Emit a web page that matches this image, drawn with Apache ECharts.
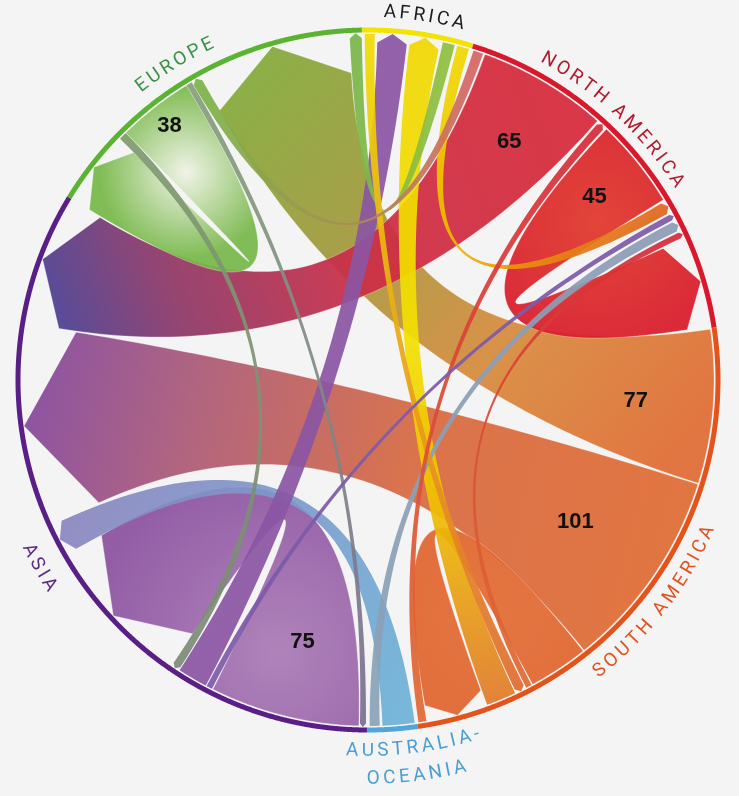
<!DOCTYPE html>
<html>
<head>
<meta charset="utf-8">
<script src="https://cdn.jsdelivr.net/npm/echarts@6/dist/echarts.min.js"></script>
<style>
html,body{margin:0;padding:0;background:#f4f4f4;}
#c{width:739px;height:796px;}
</style>
</head>
<body>
<div id="c"></div>
<script>
// ---------------- DATA ----------------
const regionNames  = ['Africa', 'North America', 'South America', 'Australia-Oceania', 'Asia', 'Europe'];
const regionLabels = ['AFRICA', 'NORTH AMERICA', 'SOUTH AMERICA', 'AUSTRALIA-\nOCEANIA', 'ASIA', 'EUROPE'];
const regionTotals = [55, 191, 270, 25, 362, 172];

const linkSource = ['North America','South America','South America','Asia','Europe','North America',
  'South America','Asia','Australia-Oceania','South America','Europe','Europe','Africa','Africa',
  'South America','Asia','Australia-Oceania','South America','Africa','North America'];
const linkTarget = ['Asia','Asia','Europe','Asia','Europe','North America',
  'Africa','Africa','Asia','South America','Asia','Asia','Europe','North America',
  'North America','North America','North America','North America','South America','Europe'];
const linkValue  = [65, 101, 77, 75, 38, 45, 15, 15, 16, 30, 4, 3, 6, 6, 4, 3, 5, 3, 5, 5];

// order of link ends inside each sector (clockwise); 's' = source end, 't' = target end
const sectorOrder = {
  'Africa':            ['18s','7t','6t','12s','13s'],
  'North America':     ['19s','0s','14t','5s','13t','15t','16t','17t','5t'],
  'South America':     ['2s','1s','9s','17s','18t','6s','9t','14s'],
  'Australia-Oceania': ['8s','16s'],
  'Asia':              ['11t','3s','15s','7s','10t','3t','8t','1t','0t'],
  'Europe':            ['4t','10s','4s','11s','19t','2t','12t']
};
const labelMinValue = 35;

// ---------------- STYLE / LAYOUT ----------------
const CENTER = [368, 380];
const R_RING = 350, R_SRC = 346, R_TIP = 347;
const START_COMPASS = 359;
const ringColor = {
  'Africa':'#f2e400','North America':'#d9182b','South America':'#e2541c',
  'Australia-Oceania':'#4fa6d8','Asia':'#5a1f86','Europe':'#5bb431'
};
const chordColor = {
  'Africa':'#f1dc00','North America':'#d62a3a','South America':'#e06a32',
  'Australia-Oceania':'#6cb2d8','Asia':'#7e4a9e','Europe':'#7ab446'
};
const textColor = {
  'Africa':'#1c1c1c','North America':'#b01a2d','South America':'#e0521e',
  'Australia-Oceania':'#4a9fd2','Asia':'#5b2a86','Europe':'#3a9246'
};
const linkColorOverride = {
  0:{stops:[[0,'#d62a3a'],[0.45,'#cc2d45'],[0.8,'#8c3868'],[1,'#4f3f90']]},
  1:{stops:[[0,'#e06c34'],[0.4,'#d86a40'],[0.75,'#ac5a76'],[1,'#86489b']]},
  2:{stops:[[0,'#e06c34'],[0.35,'#d88a3c'],[0.7,'#a09a3c'],[1,'#84aa3a']]},
  6:{stops:[[0,'#e07a2a'],[0.3,'#f0c000'],[0.55,'#f2e000'],[1,'#f1d800']]},
  7:{from:'#8a55a3', to:'#8a55a3'}, 8:{to:'#8a86c0'}, 10:{from:'#7e9a6e', to:'#7d8a78'},
  11:{from:'#86a07a', to:'#7a6f90'}, 12:{from:'#8fbf3f', to:'#79b64a'},
  13:{stops:[[0,'#f0d800'],[0.5,'#eeb000'],[1,'#e0641e']]},
  15:{from:'#7c5aa8', to:'#7c5aa8'}, 16:{from:'#8aa2b8', to:'#8c9cb4'}, 19:{from:'#d86464'}
};
const selfStyle = {
  'Europe': {inner:'#f0f3e6', outer:'#78b849', stop:0.75},
  'Asia': {inner:'#aa7bb6', outer:'#8c52a0', stop:0.9},
  'North America': {inner:'#e0382a', outer:'#d8182b', stop:1},
  'South America': {inner:'#e26c34', outer:'#e0642e', stop:1}
};
const labelShiftDeg = [0.6, -6.2, 1.2, -3, -0.5, -1.7];
const labelRadius   = [368, 367, 372, 371, 379, 371];
const topLabel      = [true, true, false, false, false, true];
const LABEL_FONT = 19, LETTER_SP = 3.4, LINE_GAP = 28;
const numberInsetOverride = {4: 24};

// ---------------- LAYOUT FROM DATA ----------------
const TOTAL = regionTotals.reduce((a,b)=>a+b,0);
const DEG = 360 / TOTAL;
const regionStart = {};
let acc = 0;
regionNames.forEach((n,i)=>{ regionStart[n] = acc; acc += regionTotals[i]; });
const ends = linkValue.map(()=>({}));
regionNames.forEach((n,i)=>{
  const list = sectorOrder[n];
  const sum = list.reduce((s,e)=>s+linkValue[parseInt(e,10)],0);
  const pad = (regionTotals[i]-sum)/(list.length+1);
  let pos = regionStart[n] + pad;
  list.forEach(e=>{
    const li = parseInt(e,10), side = e.slice(-1);
    ends[li][side] = [pos, pos + linkValue[li]];
    pos += linkValue[li] + pad;
  });
});
const drawOrder = linkValue.map((v,i)=>i).sort((a,b)=>linkValue[b]-linkValue[a]);

function arcPts(api, r, a1, a2){
  const n = Math.max(2, Math.ceil(Math.abs(a2-a1)/0.4));
  const pts = [];
  for (let k=0;k<=n;k++) pts.push(api.coord([r, a1+(a2-a1)*k/n]));
  return pts;
}
function bez(p0, c, p2, n){
  const pts = [];
  for (let k=1;k<=n;k++){
    const t=k/n, u=1-t;
    pts.push([u*u*p0[0]+2*u*t*c[0]+t*t*p2[0], u*u*p0[1]+2*u*t*c[1]+t*t*p2[1]]);
  }
  return pts;
}

function renderChord(params, api){
  const li = drawOrder[params.dataIndex];
  const s = ends[li].s, t = ends[li].t;
  const c = api.coord([0, 0]);
  const pts = arcPts(api, R_SRC, s[0], s[1]);
  const arcPx = (t[1]-t[0]) * DEG * Math.PI/180 * R_TIP;
  const L = Math.min(55, 0.24*arcPx + 2);
  const rb = R_TIP - L;
  const b1 = api.coord([rb, t[0]]), b2 = api.coord([rb, t[1]]);
  const tip = api.coord([R_TIP, (t[0]+t[1])/2]);
  const first = pts[0];
  pts.push(...bez(pts[pts.length-1], c, b1, 60));
  pts.push(tip, b2);
  pts.push(...bez(b2, c, first, 60));
  const src = linkSource[li], tgt = linkTarget[li];
  let fill;
  if (src === tgt && selfStyle[src]) {
    const st = selfStyle[src];
    let cx=0, cy=0; pts.forEach(p=>{cx+=p[0];cy+=p[1];}); cx/=pts.length; cy/=pts.length;
    let rmax = 0; pts.forEach(p=>{rmax=Math.max(rmax, Math.hypot(p[0]-cx,p[1]-cy));});
    fill = new echarts.graphic.RadialGradient(cx, cy, rmax*st.stop,
      [{offset:0,color:st.inner},{offset:1,color:st.outer}], true);
  } else {
    const ov = linkColorOverride[li] || {};
    const sm = api.coord([R_SRC, (s[0]+s[1])/2]);
    const stops = ov.stops ? ov.stops.map(d=>({offset:d[0], color:d[1]}))
      : [{offset:0,color:ov.from||chordColor[src]},{offset:1,color:ov.to||chordColor[tgt]}];
    fill = new echarts.graphic.LinearGradient(sm[0], sm[1], tip[0], tip[1], stops, true);
  }
  const big = linkValue[li] > 20;
  return {
    type:'polygon', shape:{points:pts},
    style:{fill:fill, opacity: big ? 0.93 : 0.92,
      stroke: big ? 'rgba(255,255,255,0.5)' : null, lineWidth: big ? 0.6 : 0}
  };
}

function renderRing(params, api){
  const i = params.dataIndex, n = regionNames[i];
  return {
    type:'polyline',
    shape:{points: arcPts(api, R_RING, regionStart[n], regionStart[n]+regionTotals[i])},
    style:{stroke: ringColor[n], lineWidth:5, fill:null, lineCap:'butt'}
  };
}

const mctx = document.createElement('canvas').getContext('2d');
mctx.font = LABEL_FONT + 'px Roboto';
function renderLabel(params, api){
  const i = params.dataIndex, n = regionNames[i];
  const mid = regionStart[n] + regionTotals[i]/2 + labelShiftDeg[i]/DEG;
  const children = [];
  regionLabels[i].split('\n').forEach((line, lk)=>{
    const r = labelRadius[i] + lk*LINE_GAP;
    const chars = [...line];
    const w = chars.map(ch=>mctx.measureText(ch).width);
    const total = w.reduce((a,b)=>a+b,0) + LETTER_SP*(chars.length-1);
    let sPos = -total/2;
    chars.forEach((ch,k)=>{
      const off = sPos + w[k]/2; sPos += w[k] + LETTER_SP;
      const dU = (off/r)*180/Math.PI/DEG * (topLabel[i] ? 1 : -1);
      const a = mid + dU;
      const p = api.coord([r, a]);
      const compass = START_COMPASS + a*DEG;
      const rot = topLabel[i] ? -compass*Math.PI/180 : (180-compass)*Math.PI/180;
      children.push({type:'text', x:p[0], y:p[1], rotation:rot,
        style:{text:ch, fill:textColor[n], fontSize:LABEL_FONT, fontFamily:'Roboto',
          align:'center', verticalAlign:'middle'}});
    });
  });
  return {type:'group', children};
}

const labelled = linkValue.map((v,i)=>i).filter(i=>linkValue[i] >= labelMinValue);
function renderNumber(params, api){
  const li = labelled[params.dataIndex];
  const s = ends[li].s;
  const arcPx = (s[1]-s[0]) * DEG * Math.PI/180 * R_SRC;
  const inset = numberInsetOverride[li] !== undefined ? numberInsetOverride[li] : 0.35*arcPx + 23;
  const p = api.coord([R_SRC - inset, (s[0]+s[1])/2]);
  return {type:'text', x:p[0], y:p[1],
    style:{text:String(linkValue[li]), fill:'#111', fontSize:22, fontWeight:'bold',
      fontFamily:'"Liberation Sans", Arial, sans-serif', align:'center', verticalAlign:'middle'}};
}

const chart = echarts.init(document.getElementById('c'), null, {renderer:'canvas'});
chart.setOption({
  backgroundColor:'#f4f4f4',
  animation:false,
  polar:{center:CENTER, radius:R_RING},
  angleAxis:{type:'value', min:0, max:TOTAL, startAngle:90 + (360 - START_COMPASS), clockwise:true, show:false},
  radiusAxis:{type:'value', min:0, max:R_RING, show:false},
  series:[
    {type:'custom', coordinateSystem:'polar', silent:true, clip:false, z:2,
      data: drawOrder.map(()=>[0,0]), renderItem: renderChord},
    {type:'custom', coordinateSystem:'polar', silent:true, clip:false, z:3,
      data: regionNames.map(()=>[0,0]), renderItem: renderRing},
    {type:'custom', coordinateSystem:'polar', silent:true, clip:false, z:4,
      data: regionNames.map(()=>[0,0]), renderItem: renderLabel},
    {type:'custom', coordinateSystem:'polar', silent:true, clip:false, z:5,
      data: labelled.map(()=>[0,0]), renderItem: renderNumber}
  ]
});
</script>
</body>
</html>
